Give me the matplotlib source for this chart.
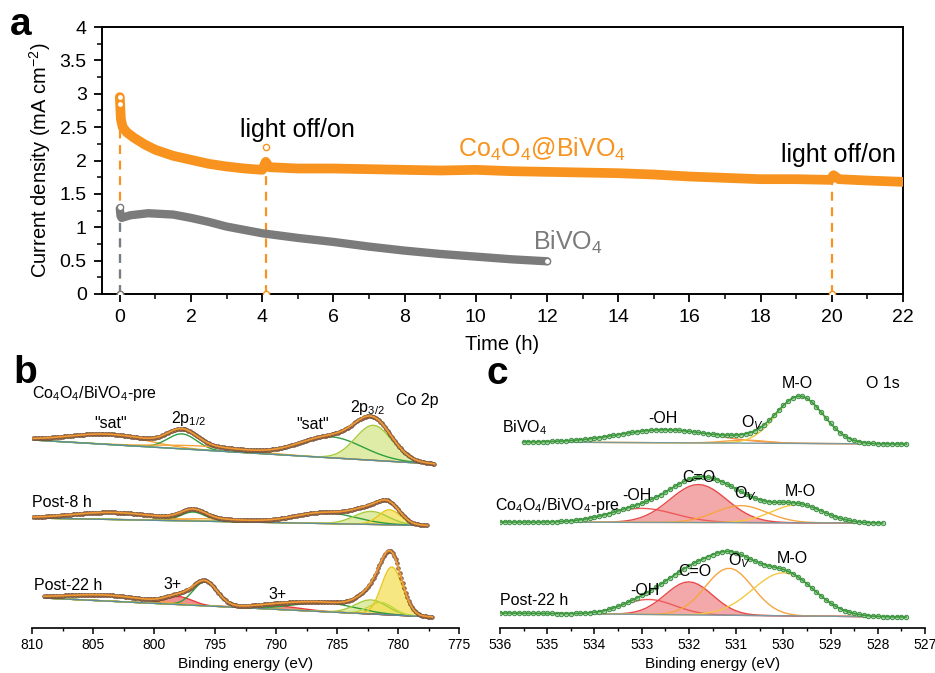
import numpy as np
import matplotlib.pyplot as plt
from matplotlib.ticker import MultipleLocator

plt.rcParams['font.family'] = ['Liberation Sans', 'DejaVu Sans']
plt.rcParams['mathtext.fontset'] = 'custom'
plt.rcParams['mathtext.rm'] = 'Liberation Sans'
plt.rcParams['mathtext.it'] = 'Liberation Sans:italic'
plt.rcParams['mathtext.bf'] = 'Liberation Sans:bold'

# === panel a: chronoamperometry ===
co_t = [0.0, 0.03, 0.08, 0.2, 0.4, 0.7, 1.0, 1.5, 2.0, 2.5, 3.0, 3.5, 4.0, 4.1, 4.2,
        5.0, 6.0, 7.0, 8.0, 9.0, 10.0, 11.0, 12.0, 13.0, 14.0, 15.0, 16.0, 17.0,
        18.0, 19.0, 19.95, 20.05, 20.2, 21.0, 22.0]
co_j = [2.95, 2.62, 2.5, 2.42, 2.34, 2.24, 2.16, 2.07, 2.01, 1.95, 1.91, 1.88, 1.86, 1.98, 1.9,
        1.88, 1.88, 1.87, 1.86, 1.85, 1.86, 1.84, 1.83, 1.82, 1.81, 1.79, 1.76, 1.74,
        1.72, 1.72, 1.71, 1.78, 1.72, 1.70, 1.68]
bi_t = [0.0, 0.02, 0.05, 0.3, 0.8, 1.5, 2.0, 2.5, 3.0, 3.5, 4.0, 5.0, 6.0, 7.0,
        8.0, 9.0, 10.0, 11.0, 12.0]
bi_j = [1.28, 1.17, 1.14, 1.18, 1.21, 1.19, 1.14, 1.08, 1.01, 0.96, 0.91, 0.84, 0.78, 0.71,
        0.65, 0.60, 0.56, 0.52, 0.49]
light_t = [0.0, 4.1, 20.0]
light_top = [2.45, 1.86, 1.72]
co_open_t = [0.0, 0.0, 0.0, 4.1, 4.1, 20.0]
co_open_j = [2.95, 2.85, 0.0, 2.2, 0.0, 0.0]
bi_open_t = [0.0, 0.0, 12.0]
bi_open_j = [1.3, 0.0, 0.49]
bi_dash_top = 1.14

# === panel b: Co 2p fit components (centre eV, height, width) ===
co2p_range = [(809.9, 777.0), (809.9, 777.5), (809.0, 777.1)]
co2p_base = [(188, 164), (110, 102.5), (30, 11)]
pre_cen = [803.8, 797.7, 796.0, 785.5, 782.0]
pre_amp = [10, 15, 4, 21, 35]
pre_wid = [3.2, 1.2, 3.5, 2.6, 1.5]
pre_kind = ['sat', 'green', 'sat', 'green', 'lime']
p8_cen = [803.5, 796.8, 795.5, 786.0, 782.2, 780.7]
p8_amp = [7, 9, 2.5, 11, 13, 15]
p8_wid = [3.2, 1.0, 3.0, 2.5, 1.4, 0.9]
p8_kind = ['sat', 'green', 'sat', 'green', 'lime', 'yellow']
p22_cen = [804.0, 798.0, 795.8, 790.0, 786.0, 782.2, 781.4, 780.5]
p22_amp = [6, 8, 24, 3.5, 9, 14, 12, 48]
p22_wid = [3.2, 1.1, 1.0, 2.0, 2.5, 1.3, 1.0, 0.85]
p22_kind = ['sat', 'red', 'green', 'red', 'green', 'lime', 'lime2', 'yellow']

# === panel c: O 1s fit components ===
o1s_range = [(535.5, 527.4), (536.0, 527.9), (536.0, 527.4)]
o1s_base = [(186, 184), (106, 105), (15, 11)]
obi_cen = [532.5, 530.8, 529.65]
obi_amp = [13, 3, 47]
obi_wid = [1.0, 0.45, 0.5]
obi_kind = ['oh2', 'ov', 'mo']
opre_cen = [533.0, 531.8, 530.9, 529.7]
opre_amp = [14, 38, 17, 18]
opre_wid = [0.7, 0.6, 0.55, 0.55]
opre_kind = ['oh', 'co', 'ov', 'mo']
o22_cen = [532.85, 532.0, 531.15, 530.0]
o22_amp = [15, 33, 47, 43]
o22_wid = [0.55, 0.5, 0.5, 0.65]
o22_kind = ['oh', 'co', 'ov', 'mo']

ORANGE = '#F7931E'
GREY = '#7b7b7b'
styles = {
    'sat':    dict(line='#F5A43A', fill=None),
    'green':  dict(line='#2E9E3E', fill=None),
    'lime':   dict(line='#A8CC3C', fill='#D5E68A'),
    'lime2':  dict(line='#C7D83A', fill='#E3E77A'),
    'yellow': dict(line='#E8C820', fill='#F4E05A'),
    'red':    dict(line='#E83A3A', fill='#EE6A6A'),
    'oh':     dict(line='#EE5A5A', fill=None),
    'oh2':    dict(line='#F08A50', fill=None),
    'co':     dict(line='#E84A4A', fill='#F08C8C'),
    'ov':     dict(line='#F7A540', fill=None),
    'mo':     dict(line='#F5C842', fill=None),
}


def gauss(E, c, a, w):
    return a * np.exp(-0.5 * ((E - c) / w) ** 2)


def draw_spectrum(ax, rng, base, cen, amp, wid, kind, step, dot, env_col, base_col):
    E = np.arange(rng[0], rng[1], -step)
    bl = base[0] + (base[1] - base[0]) * (E - rng[0]) / (rng[1] - rng[0])
    comps = [gauss(E, c, a, w) for c, a, w in zip(cen, amp, wid)]
    for g, k in zip(comps, kind):
        st = styles[k]
        if st['fill']:
            ax.fill_between(E, bl, bl + g, color=st['fill'], alpha=0.75, lw=0)
    for g, k in zip(comps, kind):
        ax.plot(E, bl + g, color=styles[k]['line'], lw=1.0)
    ax.plot(E, bl, color=base_col, lw=1.0)
    env = bl + np.sum(comps, axis=0)
    ax.plot(E, env, ls='none', marker='o', **dot)
    ax.plot(E, env, color=env_col, lw=1.2)


W, H = 935, 673
fig = plt.figure(figsize=(W / 100, H / 100), dpi=100)


def box(l, t, r, b):
    return [l / W, 1 - b / H, (r - l) / W, (b - t) / H]


# ---------------- panel a ----------------
axa = fig.add_axes(box(102, 27, 903, 294))
for t, top in zip(light_t, light_top):
    axa.plot([t, t], [0, top], ls=(0, (4, 3)), color=ORANGE, lw=1.6, zorder=1)
axa.plot([light_t[0], light_t[0]], [0, bi_dash_top], ls=(0, (4, 3)), color='#6d7f90', lw=1.6, zorder=1)
axa.plot(co_t, co_j, color=ORANGE, lw=7, solid_capstyle='round', zorder=3)
axa.plot(bi_t, bi_j, color=GREY, lw=6, solid_capstyle='round', zorder=3)
axa.plot(co_open_t, co_open_j, ls='none', marker='o', ms=4.5, mfc='white', mec=ORANGE, mew=1, zorder=4)
axa.plot(bi_open_t, bi_open_j, ls='none', marker='o', ms=4.5, mfc='white', mec=GREY, mew=1, zorder=4)

axa.set_xlim(-0.5, 22)
axa.set_ylim(0, 4)
axa.xaxis.set_major_locator(MultipleLocator(2))
axa.xaxis.set_minor_locator(MultipleLocator(1))
axa.yaxis.set_minor_locator(MultipleLocator(0.25))
axa.set_yticks(np.arange(0, 4.01, 0.5))
axa.set_yticklabels(['0', '0.5', '1', '1.5', '2', '2.5', '3', '3.5', '4'])
axa.tick_params(which='major', direction='out', length=6, width=1.3, labelsize=14, pad=5)
axa.tick_params(which='minor', direction='out', length=3.5, width=1.1)
for s in axa.spines.values():
    s.set_linewidth(1.4)
axa.set_xlabel('Time (h)', fontsize=14.5, labelpad=6)
axa.set_ylabel('Current density (mA cm$^{-2}$)', fontsize=14.5, labelpad=5)

axa.text(5.0, 2.35, 'light off/on', fontsize=18, ha='center', va='baseline')
axa.text(20.18, 1.98, 'light off/on', fontsize=18, ha='center', va='baseline')
axa.text(9.5, 2.05, 'Co$_4$O$_4$@BiVO$_4$', fontsize=18, color=ORANGE, ha='left', va='baseline')
axa.text(11.6, 0.66, 'BiVO$_4$', fontsize=18, color=GREY, ha='left', va='baseline')

# ---------------- panel b ----------------
axb = fig.add_axes(box(32, 340, 459, 628))
brown = dict(ms=2.6, mfc='#B07A52', mec='#6E4A33', mew=0.5)
for rng, base, cen, amp, wid, kind in zip(co2p_range, co2p_base,
                                          [pre_cen, p8_cen, p22_cen],
                                          [pre_amp, p8_amp, p22_amp],
                                          [pre_wid, p8_wid, p22_wid],
                                          [pre_kind, p8_kind, p22_kind]):
    draw_spectrum(axb, rng, base, cen, amp, wid, kind, 0.12, brown, '#F39A30', '#5E8C9E')
axb.set_xlim(810, 775)
axb.set_ylim(0, 288)

fs = 11.5
axb.text(810, 230, 'Co$_4$O$_4$/BiVO$_4$-pre', fontsize=fs, ha='left', va='baseline')
axb.text(803.6, 200, '"sat"', fontsize=fs, ha='center', va='baseline')
axb.text(797.2, 205, '2p$_{1/2}$', fontsize=fs, ha='center', va='baseline')
axb.text(787.0, 199, '"sat"', fontsize=fs, ha='center', va='baseline')
axb.text(782.5, 216, '2p$_{3/2}$', fontsize=fs, ha='center', va='baseline')
axb.text(778.4, 223, 'Co 2p', fontsize=fs, ha='center', va='baseline')
axb.text(810, 121, 'Post-8 h', fontsize=fs, ha='left', va='baseline')
axb.text(809.8, 38, 'Post-22 h', fontsize=fs, ha='left', va='baseline')
axb.text(798.5, 39, '3+', fontsize=fs, ha='center', va='baseline')
axb.text(789.9, 29, '3+', fontsize=fs, ha='center', va='baseline')

# ---------------- panel c ----------------
axc = fig.add_axes(box(500, 340, 925, 628))
greendot = dict(ms=3.2, mfc='#A8D8A0', mec='#3E8E48', mew=0.7)
for rng, base, cen, amp, wid, kind in zip(o1s_range, o1s_base,
                                          [obi_cen, opre_cen, o22_cen],
                                          [obi_amp, opre_amp, o22_amp],
                                          [obi_wid, opre_wid, o22_wid],
                                          [obi_kind, opre_kind, o22_kind]):
    draw_spectrum(axc, rng, base, cen, amp, wid, kind, 0.1, greendot, '#3C9A3C', '#7A9AA0')
axc.set_xlim(536, 527)
axc.set_ylim(0, 288)

axc.text(535.95, 196, 'BiVO$_4$', fontsize=fs, ha='left', va='baseline')
axc.text(532.55, 205, '-OH', fontsize=fs, ha='center', va='baseline')
axc.text(530.65, 201, 'O$_V$', fontsize=fs, ha='center', va='baseline')
axc.text(529.7, 240, 'M-O', fontsize=fs, ha='center', va='baseline')
axc.text(527.9, 240, 'O 1s', fontsize=fs, ha='center', va='baseline')
axc.text(536.1, 118, 'Co$_4$O$_4$/BiVO$_4$-pre', fontsize=fs, ha='left', va='baseline')
axc.text(533.1, 128, '-OH', fontsize=fs, ha='center', va='baseline')
axc.text(531.8, 146, 'C=O', fontsize=fs, ha='center', va='baseline')
axc.text(530.8, 130, 'O$_V$', fontsize=fs, ha='center', va='baseline')
axc.text(529.65, 132, 'M-O', fontsize=fs, ha='center', va='baseline')
axc.text(536.0, 23, 'Post-22 h', fontsize=fs, ha='left', va='baseline')
axc.text(532.93, 33, '-OH', fontsize=fs, ha='center', va='baseline')
axc.text(531.88, 52, 'C=O', fontsize=fs, ha='center', va='baseline')
axc.text(530.93, 63, 'O$_V$', fontsize=fs, ha='center', va='baseline')
axc.text(529.8, 65, 'M-O', fontsize=fs, ha='center', va='baseline')

for ax, major, minor in [(axb, 5, 2.5), (axc, 1, 0.5)]:
    for side in ['left', 'right', 'top']:
        ax.spines[side].set_visible(False)
    ax.spines['bottom'].set_linewidth(1.2)
    ax.set_yticks([])
    ax.xaxis.set_major_locator(MultipleLocator(major))
    ax.xaxis.set_minor_locator(MultipleLocator(minor))
    ax.tick_params(which='major', direction='out', length=4, width=1.1, labelsize=10, pad=3)
    ax.tick_params(which='minor', direction='out', length=2.5, width=1.0)
    ax.set_xlabel('Binding energy (eV)', fontsize=11, labelpad=4)
    ax.patch.set_alpha(0)

fig.text(10 / W, 1 - 35 / H, 'a', fontsize=28, fontweight='bold', va='baseline')
fig.text(13 / W, 1 - 383 / H, 'b', fontsize=28, fontweight='bold', va='baseline')
fig.text(486 / W, 1 - 384 / H, 'c', fontsize=28, fontweight='bold', va='baseline')

fig.savefig('out.png', dpi=100)
